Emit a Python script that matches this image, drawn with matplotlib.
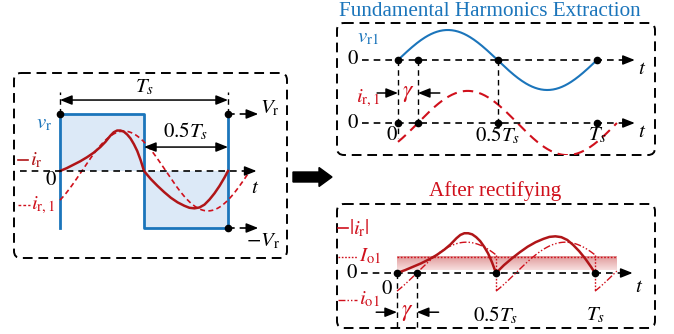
import numpy as np
import matplotlib
matplotlib.use('Agg')
import matplotlib.pyplot as plt
from matplotlib.patches import FancyBboxPatch, FancyArrow
from matplotlib.colors import LinearSegmentedColormap

plt.rcParams['font.family'] = ['Liberation Serif', 'DejaVu Serif']
plt.rcParams['mathtext.fontset'] = 'stix'

W, H = 674, 334
BLUE = '#1b75bb'
RED = '#d0101c'
DARK_RED = '#b01518'
FILL_BLUE = '#dce9f7'

# square-wave bridge voltage v_r (per unit of V_r), time in units of Ts
vr_t = [0, 0, 0.5, 0.5, 1.0, 1.0]
vr_v = [-1, 1, 1, -1, -1, 1]

# resonant current i_r (per unit of V_r scale)
ir_t = [0.0, 0.04, 0.08, 0.12, 0.16, 0.20, 0.24, 0.27, 0.30, 0.32, 0.34, 0.36,
        0.38, 0.40, 0.42, 0.44, 0.46, 0.48, 0.50,
        0.54, 0.58, 0.62, 0.66, 0.70, 0.74, 0.77, 0.80, 0.83, 0.86, 0.89,
        0.92, 0.95, 0.98, 1.0]
ir_v = [0.0, 0.05, 0.11, 0.17, 0.24, 0.32, 0.42, 0.51, 0.62, 0.68, 0.71, 0.71,
        0.69, 0.64, 0.57, 0.47, 0.35, 0.19, 0.0,
        -0.14, -0.26, -0.37, -0.47, -0.55, -0.61, -0.645, -0.655, -0.64, -0.59, -0.50,
        -0.39, -0.26, -0.11, 0.0]

# fundamental-harmonic parameters
ir1_amp_left = 0.70
gamma_left = 0.13
gamma = 0.1
vr1_amp = 1.0
ir1_amp_top = 1.07
io1_amp = 0.55
Io1_level = 0.29
Io1_band_low = 0.05

fig = plt.figure(figsize=(W / 100, H / 100), dpi=100)

bg = fig.add_axes([0, 0, 1, 1])
bg.set_xlim(0, W)
bg.set_ylim(H, 0)
bg.axis('off')


def box(x0, y0, x1, y1):
    bg.add_patch(FancyBboxPatch((x0, y0), x1 - x0, y1 - y0,
                                boxstyle='round,pad=0,rounding_size=7',
                                fill=False, ec='k', lw=1.4, ls=(0, (5, 3))))


box(14, 73, 287, 258)
box(337, 23, 655, 155)
box(337, 204, 655, 328)
bg.text(490, 12, 'Fundamental Harmonics Extraction', color=BLUE, fontsize=15.2,
        ha='center', va='center')
bg.text(495, 191, 'After rectifying', color=RED, fontsize=15.2,
        ha='center', va='center')
bg.add_patch(FancyArrow(293, 177, 26, 0, width=10, head_width=19,
                        head_length=13, color='k', length_includes_head=False))


def panel(x0, x1, y0, y1, t0, T, zero, unit):
    ax = fig.add_axes([x0 / W, 1 - y1 / H, (x1 - x0) / W, (y1 - y0) / H])
    ax.set_xlim((x0 - t0) / T, (x1 - t0) / T)
    ax.set_ylim((zero - y1) / unit, (zero - y0) / unit)
    ax.axis('off')
    return ax


DASH = (0, (4, 3))
HEAD = '-|>,head_length=0.55,head_width=0.22'
DHEAD = '<|-|>,head_length=0.55,head_width=0.22'
FS = 15


def arrow(ax, x0, y0, x1, y1, style=HEAD, color='k', lw=1.1):
    ax.annotate('', xy=(x1, y1), xytext=(x0, y0),
                arrowprops=dict(arrowstyle=style, color=color, lw=lw,
                                mutation_scale=13, shrinkA=0, shrinkB=0))


def dashed_arrow(ax, x0, x1, y, head=0.03):
    ax.plot([x0, x1 - head], [y, y], color='k', lw=1.2, ls=DASH)
    arrow(ax, x1 - head, y, x1, y)


def dots(ax, xs, y):
    ax.plot(xs, [y] * len(xs), 'o', color='k', ms=4.5, zorder=6)


def txt(ax, x, y, s, color='k', size=FS, ha='center'):
    ax.text(x, y, s, color=color, fontsize=size, ha=ha, va='center')


# ---------------- left panel ----------------
axL = panel(14, 287, 73, 258, 60, 168, 171, 57)
axL.fill_between(vr_t, vr_v, 0, color=FILL_BLUE, lw=0)
axL.plot(vr_t, vr_v, color=BLUE, lw=2)
t = np.linspace(0, 1 + gamma_left, 200)
axL.plot(t, ir1_amp_left * np.sin(2 * np.pi * (t - gamma_left)),
         color=RED, lw=1.2, ls=(0, (3, 2)))
axL.plot(ir_t, ir_v, color=DARK_RED, lw=1.8)
dashed_arrow(axL, -0.24, 1.17, 0, head=0.05)
txt(axL, 1.16, -0.3, '$t$')
dots(axL, [0, 1], 1)
dots(axL, [1], -1)
axL.plot([0, 0], [1.0, 1.39], color='k', lw=1.0, ls=DASH)
axL.plot([1, 1], [1.0, 1.39], color='k', lw=1.0, ls=DASH)
arrow(axL, 0, 1.245, 1, 1.245, style=DHEAD)
txt(axL, 0.5, 1.46, '$T_s$')
arrow(axL, 0.5, 0.42, 1, 0.42, style=DHEAD)
txt(axL, 0.75, 0.70, '$0.5T_s$')
dashed_arrow(axL, 1, 1.18, 1, head=0.05)
dashed_arrow(axL, 1, 1.18, -1, head=0.05)
txt(axL, 1.19, 1.10, '$V_{\\mathrm{r}}$', ha='left')
txt(axL, 1.21, -1.23, '$-V_{\\mathrm{r}}$')
txt(axL, -0.095, 0.82, '$v_{\\mathrm{r}}$', color=BLUE)
axL.plot([-0.25, -0.19], [0.19, 0.19], color=DARK_RED, lw=1.2)
txt(axL, -0.18, 0.19, '$i_{\\mathrm{r}}$', color=DARK_RED, ha='left')
txt(axL, -0.055, -0.17, '$0$')
axL.plot([-0.25, -0.18], [-0.6, -0.6], color=RED, lw=1.0, ls=(0, (2, 1.5)))
txt(axL, -0.175, -0.6, '$i_{\\mathrm{r,1}}$', color=RED, ha='left')

# ---------------- top-right panel ----------------
axT = panel(337, 655, 23, 155, 398, 199, 60, 30)
off = -2.1
t = np.linspace(0, 1, 200)
axT.plot(t, vr1_amp * np.sin(2 * np.pi * t), color=BLUE, lw=1.5)
t = np.linspace(0, 1.1, 200)
axT.plot(t, off + ir1_amp_top * np.sin(2 * np.pi * (t - gamma)),
         color=RED, lw=1.5, ls=(0, (5, 3)))
for y in (0, off):
    dashed_arrow(axT, -0.18, 1.19, y)
    txt(axT, -0.225, y, '$0$')
txt(axT, 1.225, -0.33, '$t$')
txt(axT, 1.225, off - 0.33, '$t$')
axT.plot([0, 0], [0, off - 0.5], color='k', lw=1.0, ls=DASH)
axT.plot([gamma, gamma], [0, off], color='k', lw=1.0, ls=DASH)
axT.plot([0.5, 0.5], [0, off], color='k', lw=1.0, ls=DASH)
dots(axT, [0, gamma, 0.5, 1], 0)
dots(axT, [0, gamma, 0.5, 1], off)
arrow(axT, -0.105, -1.1, 0, -1.1)
arrow(axT, 0.21, -1.1, gamma, -1.1)
txt(axT, gamma / 2, -1.1, '$\\gamma$', color=RED, size=17)
txt(axT, -0.15, 0.75, '$v_{\\mathrm{r1}}$', color=BLUE)
txt(axT, -0.15, -1.27, '$i_{\\mathrm{r,1}}$', color=RED)
txt(axT, -0.03, off - 0.4, '$0$')
txt(axT, 0.5, off - 0.42, '$0.5T_s$')
txt(axT, 1.0, off - 0.42, '$T_s$')

# ---------------- bottom-right panel ----------------
axB = panel(337, 655, 204, 328, 397, 198, 273, 56)
cmap = LinearSegmentedColormap.from_list('band', ['#f7dede', '#e09a9a'])
grad = np.linspace(0, 1, 50).reshape(-1, 1)
axB.imshow(grad, extent=[0, 1.11, Io1_band_low, Io1_level], origin='lower',
           aspect='auto', cmap=cmap, zorder=1)
axB.plot([0, 1.11], [Io1_level, Io1_level], color=RED, lw=1.0, ls=(0, (1.2, 1.2)))
axB.plot(ir_t, np.abs(ir_v), color=DARK_RED, lw=1.8, zorder=4)
io_ls = (0, (5, 1.5, 1, 1.5, 1, 1.5))
jump = io1_amp * np.sin(2 * np.pi * gamma)
for a, b in ((0, 0.5), (0.5, 1.0), (1.0, 1.11)):
    t = np.linspace(a, b, 100)
    axB.plot(t, io1_amp * np.sin(2 * np.pi * (t - a - gamma)),
             color=RED, lw=1.0, ls=io_ls, zorder=3)
for x in (0.5, 1.0):
    axB.plot([x, x], [jump, -jump], color=RED, lw=1.0, ls=(0, (1.2, 1.2)), zorder=3)
dashed_arrow(axB, -0.18, 1.19, 0)
txt(axB, 1.225, -0.25, '$t$')
txt(axB, -0.23, 0, '$0$')
txt(axB, -0.05, -0.3, '$0$')
axB.plot([0, 0], [0, -0.98], color='k', lw=1.0, ls=DASH)
axB.plot([gamma, gamma], [0, -0.98], color='k', lw=1.0, ls=DASH)
dots(axB, [0, gamma, 0.5, 1], 0)
arrow(axB, -0.105, -0.7, 0, -0.7)
arrow(axB, 0.21, -0.7, gamma, -0.7)
txt(axB, gamma / 2, -0.7, '$\\gamma$', color=RED, size=17)
txt(axB, 0.5, -0.75, '$0.5T_s$')
txt(axB, 1.0, -0.75, '$T_s$')
axB.plot([-0.3, -0.245], [0.8, 0.8], color=RED, lw=1.2)
txt(axB, -0.24, 0.8, '$|i_{\\mathrm{r}}|$', color=RED, ha='left')
axB.plot([-0.3, -0.2], [Io1_level, Io1_level], color=RED, lw=1.0, ls=(0, (1.2, 1.2)))
txt(axB, -0.19, Io1_level, '$I_{\\mathrm{o1}}$', color=RED, ha='left')
axB.plot([-0.3, -0.2], [-0.48, -0.48], color=RED, lw=1.0, ls=io_ls)
txt(axB, -0.19, -0.48, '$i_{\\mathrm{o1}}$', color=RED, ha='left')

fig.savefig('out.png', dpi=100)
